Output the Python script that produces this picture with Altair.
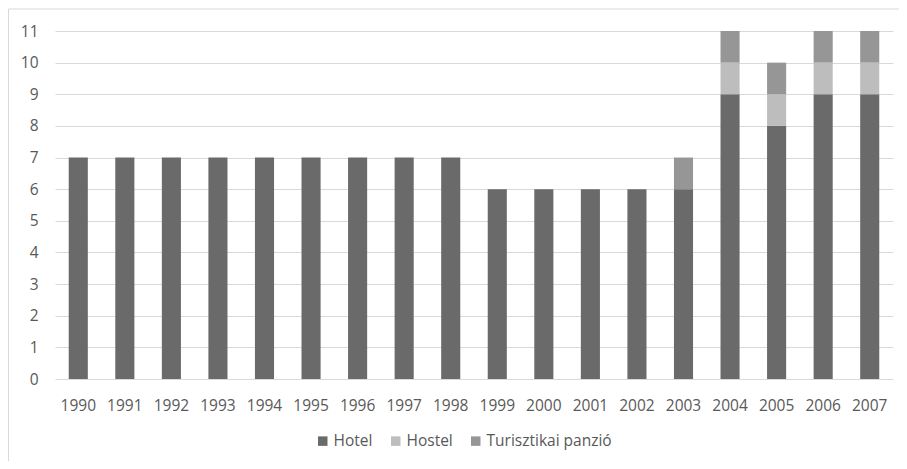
import altair as alt
import pandas as pd

years = [str(y) for y in range(1990, 2008)]
hotel = [7, 7, 7, 7, 7, 7, 7, 7, 7, 6, 6, 6, 6, 6, 9, 8, 9, 9]
hostel = [0, 0, 0, 0, 0, 0, 0, 0, 0, 0, 0, 0, 0, 0, 1, 1, 1, 1]
panzio = [0, 0, 0, 0, 0, 0, 0, 0, 0, 0, 0, 0, 0, 1, 1, 1, 1, 1]
series = ["Hotel", "Hostel", "Turisztikai panzió"]
colors = ["#6a6a6a", "#bdbdbd", "#969696"]

rows = []
for i, y in enumerate(years):
    for k, (name, vals) in enumerate(zip(series, [hotel, hostel, panzio])):
        rows.append({"year": y, "series": name, "order": k, "value": vals[i]})
df = pd.DataFrame(rows)

FONT = "Open Sans"
FS = 15.5

bars = alt.Chart(df).mark_bar().encode(
    x=alt.X("year:N", title=None, sort=years,
            scale=alt.Scale(paddingInner=0.59, paddingOuter=0.295),
            axis=alt.Axis(labelAngle=0, ticks=False, domain=False, labelPadding=19,
                          labelFontSize=FS, labelColor="#595959", labelFont=FONT)),
    y=alt.Y("value:Q", title=None, stack="zero",
            scale=alt.Scale(domain=[0, 11], nice=False),
            axis=alt.Axis(values=list(range(0, 12)), ticks=False, domain=False,
                          labelPadding=17, labelFontSize=FS, labelColor="#595959",
                          labelFont=FONT, gridColor="#d9d9d9", gridWidth=1)),
    color=alt.Color("series:N", sort=series,
                    scale=alt.Scale(domain=series, range=colors),
                    legend=alt.Legend(title=None, orient="none", direction="horizontal",
                                      legendX=260, legendY=402, symbolType="square",
                                      symbolSize=90, symbolStrokeWidth=0,
                                      labelFontSize=FS, labelColor="#595959",
                                      labelFont=FONT, columnPadding=15,
                                      labelOffset=3)),
    order=alt.Order("order:Q"),
)

border = alt.Chart(pd.DataFrame({"a": [0]})).mark_rect(
    fill=None, stroke="#d9d9d9", strokeWidth=1, clip=False
).encode(
    x=alt.value(-46.5), x2=alt.value(850), y=alt.value(-22), y2=alt.value(470)
)

chart = alt.layer(border, bars).properties(
    width=838, height=348,
    autosize=alt.AutoSizeParams(type="none"),
    padding={"left": 47, "top": 23, "right": 6, "bottom": 82},
    background="white",
).configure_view(stroke=None)

chart.save("out.html", embed_options={"renderer": "svg", "actions": False})
